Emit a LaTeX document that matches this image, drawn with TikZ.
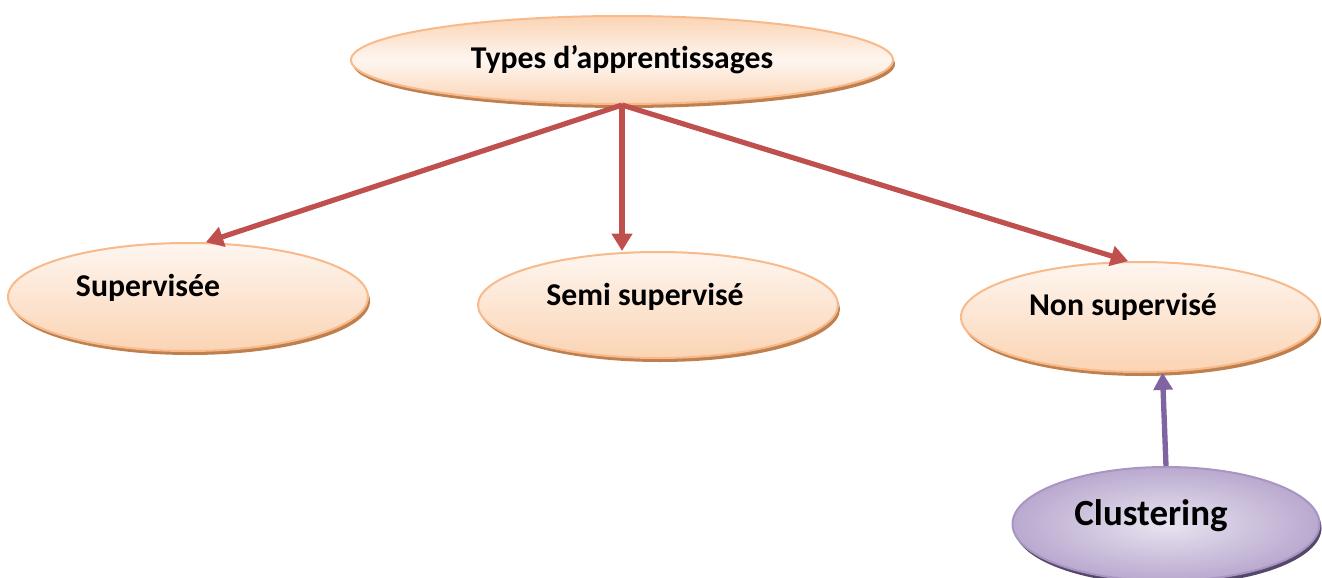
\documentclass[tikz,border=0pt]{standalone}
\usepackage{fontspec}
\setmainfont{Carlito}[Ligatures=NoCommon]
\usetikzlibrary{arrows.meta,shapes.geometric,shadows}

\definecolor{peachfill}{HTML}{FBD4B4}
\definecolor{peachlight}{HTML}{FEF6F0}
\definecolor{peachedge}{HTML}{F8B98B}
\definecolor{peachshadow}{HTML}{BF8050}
\definecolor{lavlight}{HTML}{E9E4F0}
\definecolor{lavdark}{HTML}{B9A9CF}
\definecolor{lavedge}{HTML}{A895C2}
\definecolor{lavshadow}{HTML}{55486A}
\definecolor{arrowred}{HTML}{C0504D}
\definecolor{arrowpurple}{HTML}{8064A2}

\tikzset{
  bubble/.style={ellipse, inner sep=0pt, draw=peachedge, line width=1.5pt,
    top color=peachlight, bottom color=peachfill,
    general shadow={fill=peachshadow, shadow xshift=1.5pt, shadow yshift=-3pt}},
  topbubble/.style={bubble, top color=peachfill, bottom color=peachfill, middle color=peachlight},
  clusterbubble/.style={ellipse, inner sep=0pt, draw=lavedge, line width=1.5pt,
    inner color=lavlight, outer color=lavdark,
    general shadow={fill=lavshadow, shadow xshift=1.5pt, shadow yshift=-3pt}},
  caption/.style={font=\bfseries\fontsize{23.8}{28}\selectfont, inner sep=0pt},
  bigcaption/.style={font=\bfseries\fontsize{27.7}{32}\selectfont, inner sep=0pt},
  redarrow/.style={draw=arrowred, line width=3.9pt, -{Triangle[width=15pt,length=13pt]}},
  purplearrow/.style={draw=arrowpurple, line width=4pt, -{Triangle[width=14pt,length=13pt]}}
}

\begin{document}
\begin{tikzpicture}[x=0.75pt,y=-0.75pt]
  \useasboundingbox (0,0) rectangle (1322,578);

  % learning types
  \node[topbubble, minimum width=406.5pt, minimum height=66pt,
        label={[caption]center:Types d’apprentissages}] (top) at (622,60) {};
  \node[bubble, minimum width=270pt, minimum height=81pt,
        label={[caption, xshift=-30pt, yshift=6.75pt]center:Supervisée}] (sup) at (188,297) {};
  \node[bubble, minimum width=270pt, minimum height=79.5pt,
        label={[caption, xshift=-9.75pt, yshift=6pt]center:Semi supervisé}] (semi) at (658,305) {};
  \node[bubble, minimum width=268.5pt, minimum height=82.5pt,
        label={[caption, xshift=-12.75pt, yshift=7.5pt]center:Non supervisé}] (non) at (1140,317) {};
  \node[clusterbubble, minimum width=230.25pt, minimum height=85.5pt,
        label={[bigcaption, xshift=-11.25pt, yshift=6pt]center:Clustering}] (clust) at (1166,524) {};

  % connectors
  \draw[redarrow] (top.south) -- (sup.72.5);
  \draw[redarrow] (top.south) -- (top.south |- semi.north);
  \draw[redarrow] (top.south) -- (non.102.5);
  \draw[purplearrow] (clust.north) -- (non.-68);
\end{tikzpicture}
\end{document}
